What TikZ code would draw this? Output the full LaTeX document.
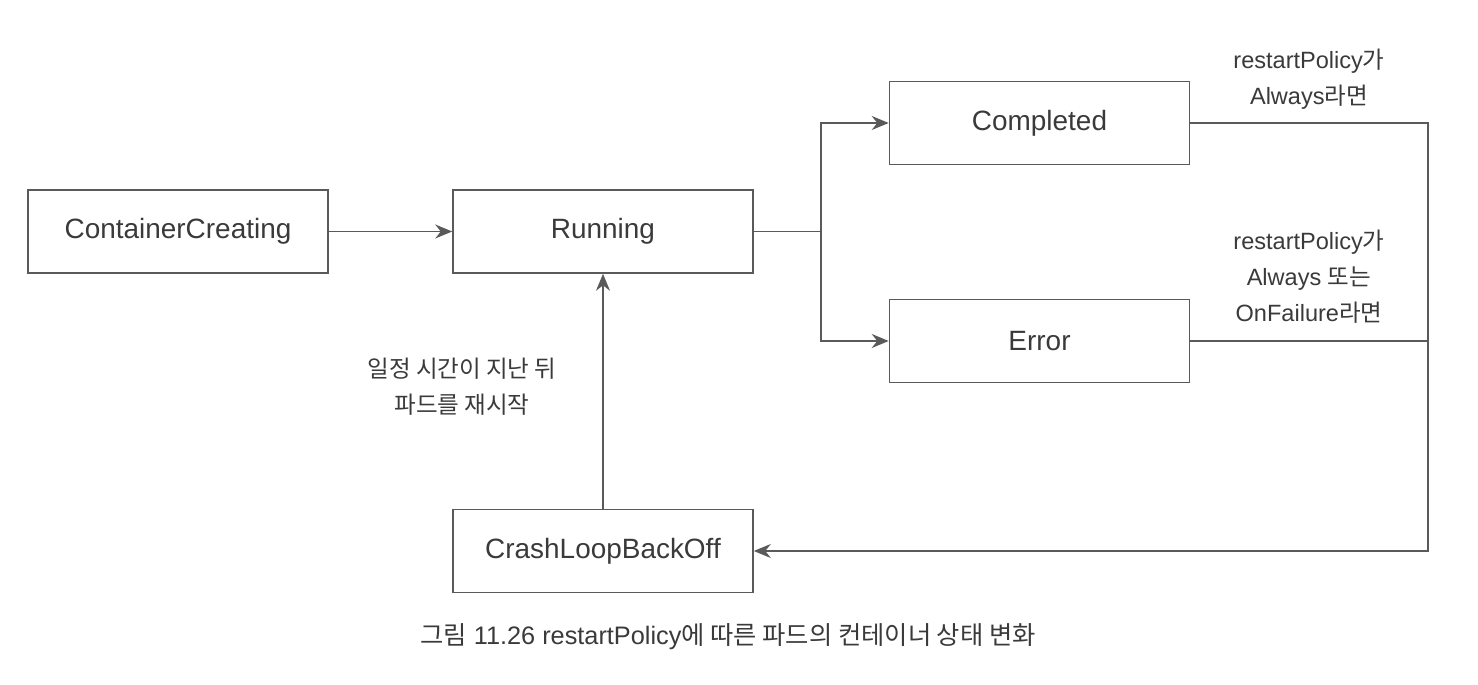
\documentclass[tikz,border=0pt]{standalone}
\usepackage{fontspec}
\setmainfont{Liberation Sans}
\newfontfamily\kr{Noto Sans CJK KR}
\newcommand{\ko}[1]{{\kr #1}}
\usepackage{tikz}
\usetikzlibrary{arrows.meta,calc}
\definecolor{linegray}{HTML}{5A5A5A}
\definecolor{textgray}{HTML}{3A3A3A}

\begin{document}
\begin{tikzpicture}[
    state/.style={draw=linegray,line width=0.9pt,minimum width=6cm,minimum height=1.66cm,inner sep=0pt,text=textgray,font=\fontsize{15.9}{19}\selectfont},
    note/.style={align=center,text=textgray,font=\fontsize{13.4}{20.6}\selectfont},
    krnote/.style={note,font=\fontsize{13.4}{20.6}\selectfont\kr},
    flow/.style={draw=linegray,line width=0.9pt,-{Stealth[length=0.34cm,width=0.28cm]}},
    wire/.style={draw=linegray,line width=0.9pt}]
            \useasboundingbox (0,0) rectangle (29.56,13.68);
            \node[state] (cc) at (3.56,9.05) {ContainerCreating};
            \node[state] (run) at (12.06,9.05) {Running};
            \node[state] (comp) at (20.79,11.22) {Completed};
            \node[state] (err) at (20.79,6.86) {Error};
            \node[state] (crash) at (12.06,2.66) {CrashLoopBackOff};
            \coordinate (fork) at (16.42,9.05);
            \coordinate (rail) at (28.56,11.22);
            \draw[flow] (cc) -- (run);
            \draw[wire] (run.east) -- (fork);
            \draw[flow] (fork) |- (comp);
            \draw[flow] (fork) |- (err);
            \draw[flow] (comp.east) -- (comp.east -| rail) |- (crash);
            \draw[wire] (err.east) -- (err.east -| rail);
            \draw[flow] (crash) -- (run);
            \node[note] (always) at (26.18,12.09) {restartPolicy\ko{가}\\Always\ko{라면}};
            \node[note] (onfail) at (26.18,8.15) {restartPolicy\ko{가}\\Always \ko{또는}\\OnFailure\ko{라면}};
            \node[krnote] (wait) at (9.24,5.95) {일정 시간이 지난 뒤\\파드를 재시작};
            \node[note,font=\fontsize{14.4}{18}\selectfont] (caption) at (14.56,0.94) {\ko{그림} 11.26 restartPolicy\ko{에 따른 파드의 컨테이너 상태 변화}};
          \end{tikzpicture}
\end{document}
